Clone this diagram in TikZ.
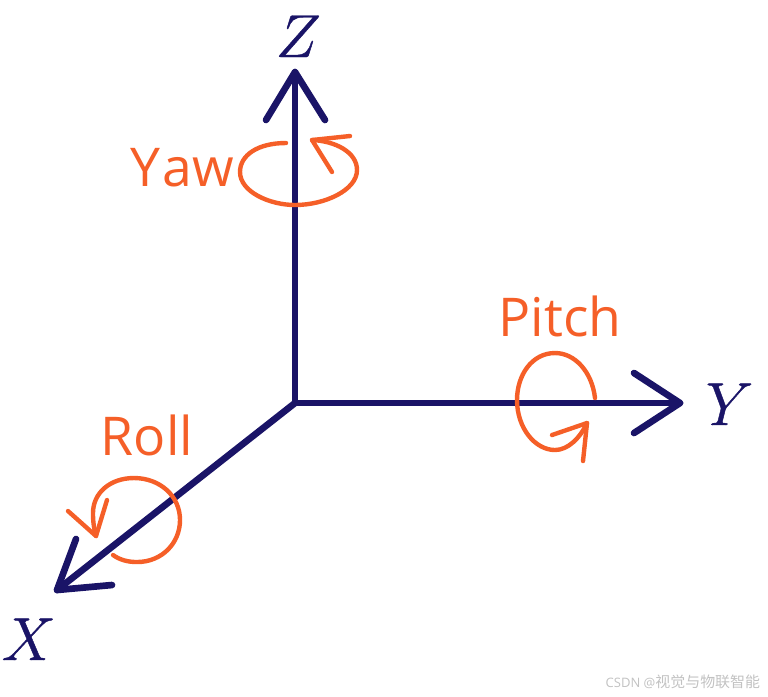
\documentclass[tikz,border=0pt]{standalone}
\usepackage{fontspec}
\setmainfont{Open Sans}
\newfontfamily\cjkfont{Noto Sans CJK SC}
\definecolor{axisblue}{HTML}{1A1467}
\definecolor{turnorange}{HTML}{F55F28}
\newcommand{\heavy}[1]{\special{pdf:code 2 Tr 0.12 w}#1\special{pdf:code 0 Tr}}
\tikzset{
  axis/.style={draw=axisblue,line width=1.9pt,line cap=round,line join=round},
  turn/.style={draw=turnorange,line width=1.25pt,line cap=round,line join=round},
  axislabel/.style={text=axisblue,inner sep=0pt,font=\fontsize{18}{20}\selectfont},
  turnlabel/.style={text=turnorange,inner sep=0pt,font=\fontsize{15.2}{16}\selectfont}
}
\begin{document}
\begin{tikzpicture}[x=0.01cm,y=-0.01cm]
\useasboundingbox (0,0) rectangle (768,696);
\coordinate (O) at (295,403);
\coordinate (Ztip) at (295,72);
\coordinate (Ytip) at (680,403);
\coordinate (Xtip) at (57,590);
% axes
\draw[axis] (O) -- (Ztip);
\draw[axis] (O) -- (Ytip);
\draw[axis] (O) -- (Xtip);
\draw[axis] (266,120) -- (Ztip) -- (325,120);
\draw[axis] (634,373) -- (Ytip) -- (634,433);
\draw[axis] (76,539) -- (Xtip) -- (112,585);
% labels
\node[axislabel,anchor=base west] (Z) at (275,57) {\heavy{$Z$}};
\node[axislabel,anchor=base west] (Y) at (705,425) {\heavy{$Y$}};
\node[axislabel,anchor=base west] (X) at (1,660) {\heavy{$X$}};
\node[turnlabel,anchor=base west] (yaw) at (130,186) {Y\kern0.5pt aw};
\node[turnlabel,anchor=base west] (pitch) at (498,336) {Pitch};
\node[turnlabel,anchor=base west] (roll) at (100,455) {Roll};
% yaw
\draw[turn] (286,143) .. controls (258,143) and (240,155) .. (240,172)
  .. controls (240,192) and (270,205) .. (295,205)
  .. controls (325,205) and (357,190) .. (357,170)
  .. controls (357,152) and (335,141) .. (312,140);
\draw[turn] (350,136) -- (312,140) -- (332,172);
% pitch
\draw[turn] (595,398) .. controls (592,372) and (575,353) .. (555,353)
  .. controls (532,353) and (517,375) .. (517,400)
  .. controls (517,428) and (535,450) .. (555,450)
  .. controls (568,450) and (580,438) .. (587,423);
\draw[turn] (552,435) -- (587,423) -- (583,461);
% roll
\draw[turn] (113,555) .. controls (120,560) and (128,562) .. (137,562)
  .. controls (162,562) and (180,543) .. (180,520)
  .. controls (180,496) and (160,478) .. (134,478)
  .. controls (110,478) and (93,493) .. (93,513)
  .. controls (93,522) and (94,529) .. (96,536);
\draw[turn] (68,511) -- (96,536) -- (107,500);
% watermark
\node[inner sep=0pt,anchor=base west,text=black!24,font=\fontsize{3.7}{5}\selectfont] (mark) at (605,687) {CSDN @{\cjkfont\fontsize{4.25}{5}\selectfont 视觉与物联智能}};
\end{tikzpicture}
\end{document}
